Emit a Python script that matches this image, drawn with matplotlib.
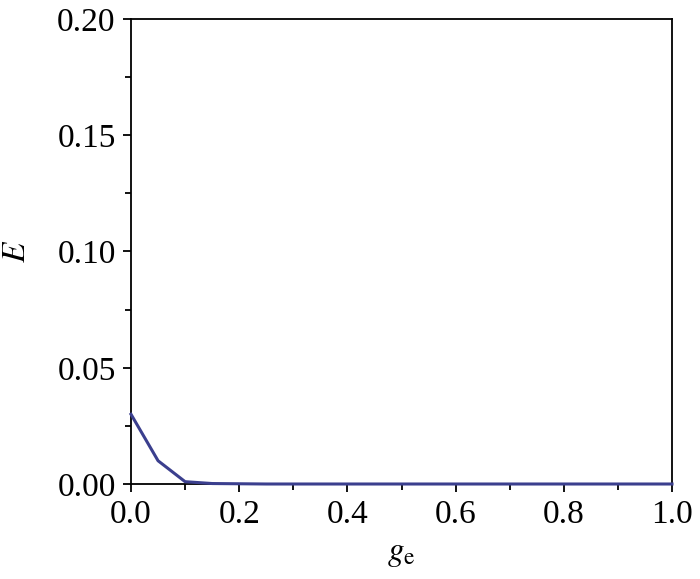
import matplotlib
matplotlib.use("Agg")
import matplotlib.pyplot as plt
from matplotlib.ticker import MultipleLocator

ge = [0.0, 0.05, 0.1, 0.15, 0.2, 0.25, 0.3, 0.35, 0.4, 0.45, 0.5, 0.55, 0.6,
      0.65, 0.7, 0.75, 0.8, 0.85, 0.9, 0.95, 1.0]
E = [0.030, 0.010, 0.001, 0.0002, 0.0001, 0.0, 0.0, 0.0, 0.0, 0.0, 0.0, 0.0,
     0.0, 0.0, 0.0, 0.0, 0.0, 0.0, 0.0, 0.0, 0.0]

plt.rcParams['font.family'] = ['Liberation Serif', 'DejaVu Serif']
plt.rcParams['mathtext.fontset'] = 'stix'

fig = plt.figure(figsize=(7.0, 5.79), dpi=100)
ax = fig.add_axes([131/700, 1 - 484/579, (672-131)/700, (484-19)/579])
ax.plot(ge, E, color='#3b3f8e', lw=2.2, clip_on=False, zorder=3)
ax.set_xlim(0, 1.0)
ax.set_ylim(0, 0.20)
ax.xaxis.set_major_locator(MultipleLocator(0.2))
ax.xaxis.set_minor_locator(MultipleLocator(0.1))
ax.yaxis.set_major_locator(MultipleLocator(0.05))
ax.yaxis.set_minor_locator(MultipleLocator(0.025))
ax.xaxis.set_major_formatter(plt.FuncFormatter(lambda v, p: f"{v:.1f}"))
ax.yaxis.set_major_formatter(plt.FuncFormatter(lambda v, p: f"{v:.2f}"))
ax.tick_params(which='both', direction='out', top=False, right=False, labelsize=24, width=1.3)
ax.tick_params(which='major', length=6, pad=5)
ax.tick_params(which='minor', length=4)
for s in ax.spines.values():
    s.set_linewidth(1.3)
ax.set_xlabel(r'$g_{\mathrm{e}}$', fontsize=24, labelpad=6)
ax.set_ylabel(r'$E$', fontsize=24, labelpad=18)
fig.savefig('out.png', dpi=100)
